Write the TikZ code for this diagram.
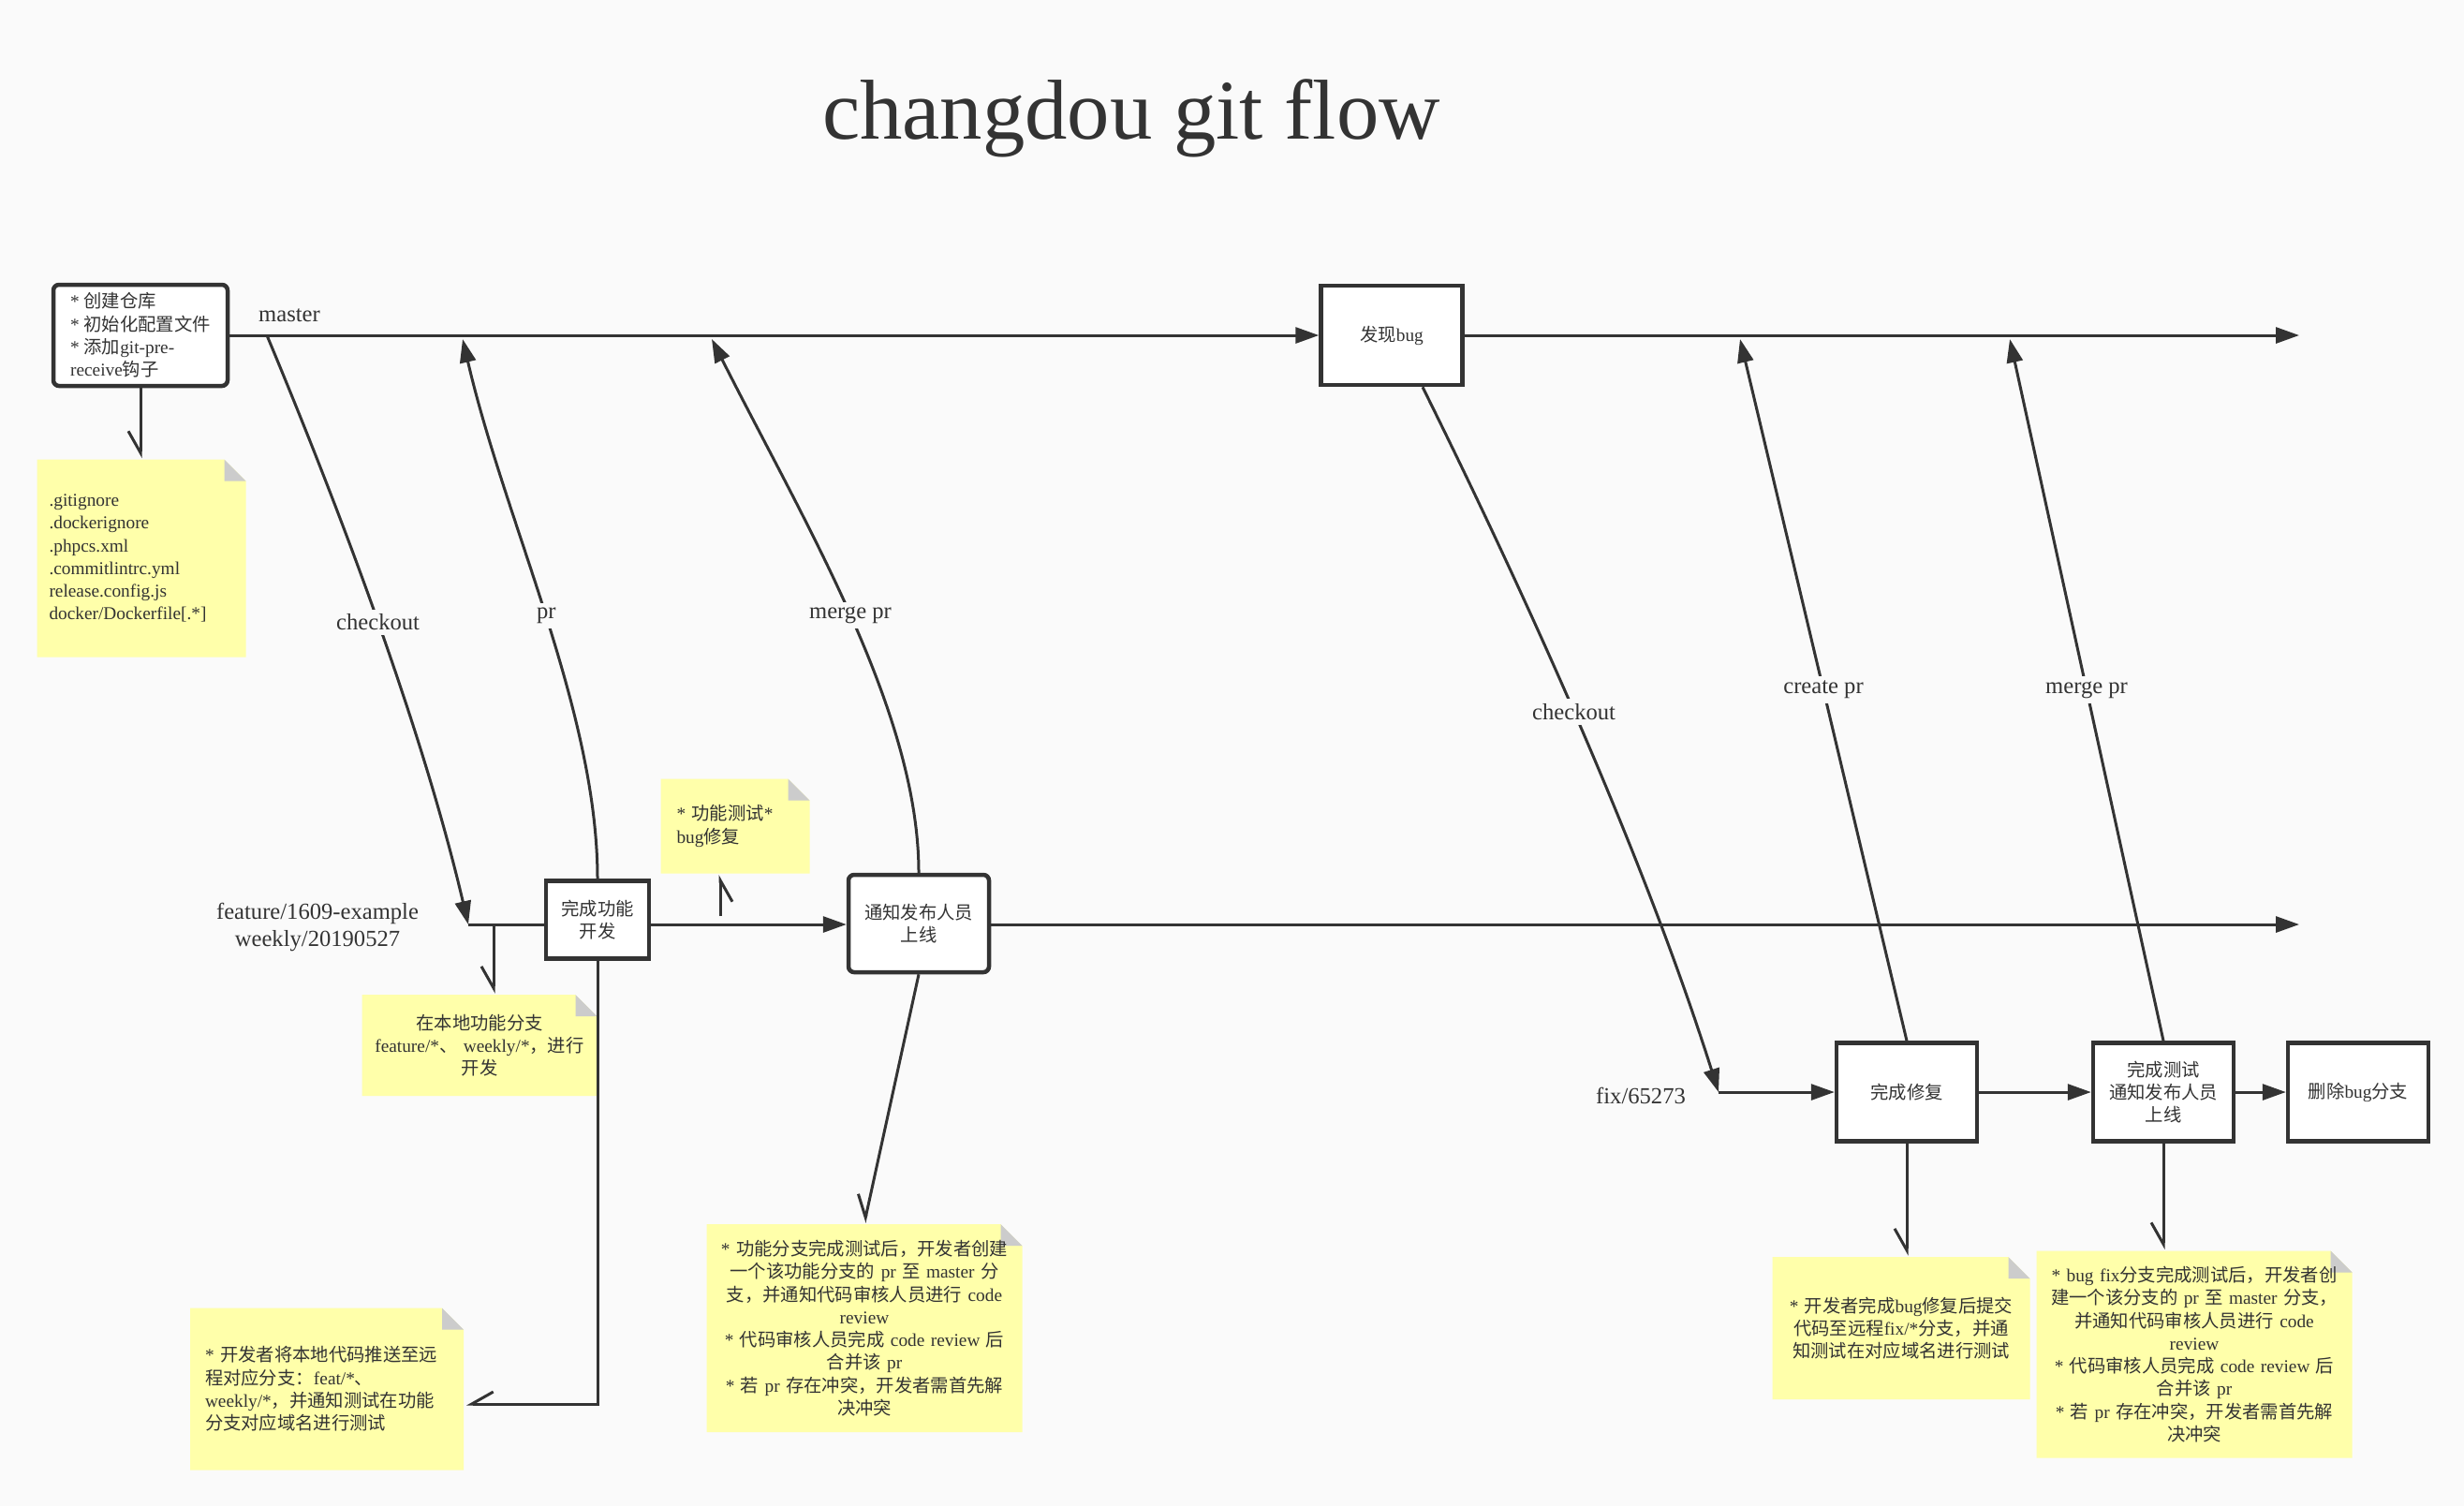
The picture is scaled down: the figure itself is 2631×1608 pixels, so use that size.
\documentclass[tikz,border=0pt]{standalone}
\usepackage{fontspec}
\setmainfont{Liberation Serif}
\newfontfamily\cjkfont{Noto Sans CJK SC}
\usetikzlibrary{arrows.meta}

% Chinese runs are set in the CJK sans, the rest in the serif
\XeTeXinterchartokenstate=1
\newXeTeXintercharclass\zhclass
\newcount\zhcode
\newcommand\zhrange[2]{\zhcode=#1\relax
  \loop\XeTeXcharclass\zhcode=\zhclass
  \ifnum\zhcode<#2\advance\zhcode by 1\repeat}
\zhrange{"3000}{"303F}
\zhrange{"4E00}{"9FFF}
\zhrange{"FF00}{"FFEF}
\XeTeXinterchartoks 0 \zhclass = {\cjkfont}
\XeTeXinterchartoks 4095 \zhclass = {\cjkfont}
\XeTeXinterchartoks \zhclass 0 = {\rmfamily}
\XeTeXinterchartoks \zhclass 4095 = {\rmfamily}

\definecolor{ink}{RGB}{51,51,51}
\definecolor{pagebg}{RGB}{250,250,250}
\definecolor{notebg}{RGB}{255,255,170}
\definecolor{foldgray}{RGB}{204,204,204}

\newcommand\notesize{\fontsize{5.5pt}{6.9pt}\selectfont}
\newcommand\labelsize{\fontsize{7pt}{8.5pt}\selectfont}
\newcommand\foldsize{2.3mm}

\begin{document}
\begin{tikzpicture}[
    x=0.1mm, y=-0.1mm,
    color=ink,
    line width=0.3mm,
    box/.style={draw=ink, fill=white, line width=0.45mm, font=\notesize,
      align=center, inner sep=0pt, minimum width=15mm, minimum height=10.5mm},
    note/.style={font=\notesize, inner sep=0pt, path picture={
      \fill[notebg] (path picture bounding box.south west)
        -- (path picture bounding box.south east)
        -- ([yshift=-\foldsize]path picture bounding box.north east)
        -- ([xshift=-\foldsize]path picture bounding box.north east)
        -- (path picture bounding box.north west) -- cycle;
      \fill[foldgray] ([xshift=-\foldsize]path picture bounding box.north east)
        -- ([xshift=-\foldsize,yshift=-\foldsize]path picture bounding box.north east)
        -- ([yshift=-\foldsize]path picture bounding box.north east) -- cycle;}},
    lbl/.style={font=\labelsize, fill=pagebg, inner sep=1.5pt},
    tip/.style={-{Triangle[length=2.5mm,width=1.7mm]}},
    barb/.style={-{Straight Barb[right,length=2.3mm,width=2.6mm]}}
]

% Page
\fill[pagebg] (0,0) rectangle (2631,1608);
\useasboundingbox (0,0) rectangle (2631,1608);

\node[font=\fontsize{25.8pt}{30pt}\selectfont] (title) at (1208,126) {changdou git flow};

% Branch names
\node[font=\labelsize] (masterlbl) at (309,337) {master};
\node[font=\labelsize, align=center] (featlbl) at (339,990) {feature/1609-example\\weekly/20190527};
\node[font=\labelsize] (fixlbl) at (1752,1170) {fix/65273};

% Steps
\node[box, rounded corners=0.6mm, align=left, minimum width=18.6mm, minimum height=10.8mm] (init) at (150,358)
  {* 创建仓库\\{}* 初始化配置文件\\{}* 添加git-pre-\\receive钩子};
\node[box, minimum width=15.1mm, minimum height=10.6mm] (bug) at (1486,358) {发现bug};
\node[box, minimum width=11mm, minimum height=8.3mm] (featdone) at (638,982) {完成功能\\开发};
\node[box, rounded corners=0.6mm, minimum height=10.4mm] (notify) at (981,986) {通知发布人员\\上线};
\node[box] (fixed) at (2036,1166) {完成修复};
\node[box] (tested) at (2310,1166) {完成测试\\通知发布人员\\上线};
\node[box] (dropfix) at (2518,1166) {删除bug分支};

% Notes
\node[note, text width=19.7mm, inner xsep=1.3mm, align=left, minimum height=21.1mm] (files) at (151,596)
  {.gitignore\\.dockerignore\\.phpcs.xml\\.commitlintrc.yml\\release.config.js\\docker/Dockerfile[.*]};
\node[note, text width=25.1mm, align=center, minimum height=10.8mm] (localdev) at (512,1116)
  {在本地功能分支\\feature/*、 weekly/*，进行\\开发};
\node[note, text width=12.5mm, inner xsep=1.7mm, align=left, minimum height=10.1mm] (selftest) at (785,882)
  {* 功能测试*\\bug修复};
\node[note, text width=26mm, inner xsep=1.6mm, align=left, minimum height=17.3mm] (pushnote) at (349,1483)
  {* 开发者将本地代码推送至远\\程对应分支：feat/*、\\weekly/*，并通知测试在功能\\分支对应域名进行测试};
\node[note, text width=33.7mm, align=center, minimum height=22.2mm] (prnote) at (923,1418)
  {* 功能分支完成测试后，开发者创建\\一个该功能分支的 pr 至 master 分\\支，并通知代码审核人员进行 code\\review\\{}* 代码审核人员完成 code review 后\\合并该 pr\\{}* 若 pr 存在冲突，开发者需首先解\\决冲突};
\node[note, text width=27.5mm, align=center, minimum height=15.2mm] (fixnote) at (2030,1418)
  {* 开发者完成bug修复后提交\\代码至远程fix/*分支，并通\\知测试在对应域名进行测试};
\node[note, text width=33.7mm, align=center, minimum height=22.1mm] (fixprnote) at (2343,1446)
  {* bug fix分支完成测试后，开发者创\\建一个该分支的 pr 至 master 分支，\\并通知代码审核人员进行 code\\review\\{}* 代码审核人员完成 code review 后\\合并该 pr\\{}* 若 pr 存在冲突，开发者需首先解\\决冲突};

% Free ends of the connectors
\coordinate (masterEnd) at (2455,358);
\coordinate (ck1) at (285,358);
\coordinate (featStart) at (500,987);
\coordinate (featEnd) at (2455,987);
\coordinate (prTip) at (494,362);
\coordinate (mergeTip) at (760,362);
\coordinate (localFork) at (527,987);
\coordinate (testFoot) at (769,978);
\coordinate (pushTip) at (498,1499);
\coordinate (fixStart) at (1835,1166);
\coordinate (createTip) at (1858,362);
\coordinate (fixMergeTip) at (2146,362);

% master
\draw[tip] (init.east) -- (bug.west);
\draw[tip] (bug.east) -- (masterEnd);
\draw[barb] (init.south) -- (init.south |- files.north);

% feature branch
\draw[tip] (ck1) .. controls (386,600) and (458,808) .. (featStart) node[lbl, pos=0.45] {checkout};
\draw (featStart) -- (featStart -| featdone.west);
\draw[tip] (featdone.east |- featStart) -- (featStart -| notify.west);
\draw[tip] (notify.east |- featStart) -- (featEnd);
\draw[tip] (featdone.north) .. controls (638,760) and (540,560) .. (prTip) node[lbl, pos=0.5] {pr};
\draw[tip] (notify.north) .. controls (981,760) and (860,560) .. (mergeTip) node[lbl, pos=0.5] {merge pr};
\draw[barb] (localFork) -- (localFork |- localdev.north);
\draw[barb] (testFoot) -- (testFoot |- selftest.south);
\draw[barb] (featdone.south) |- (pushTip);
\draw[barb] (notify.south) -- (prnote.north);

% fix branch
\draw[tip] ([xshift=3.3mm]bug.south) .. controls (1664,706) and (1769,957) .. (fixStart) node[lbl, pos=0.42] {checkout};
\draw[tip] (fixStart) -- (fixed.west);
\draw[tip] (fixed.east) -- (tested.west);
\draw[tip] (tested.east) -- (dropfix.west);
\draw[tip] (fixed.north) -- (createTip) node[lbl, midway] {create pr};
\draw[tip] (tested.north) -- (fixMergeTip) node[lbl, midway] {merge pr};
\draw[barb] (fixed.south) -- (fixed.south |- fixnote.north);
\draw[barb] (tested.south) -- (tested.south |- fixprnote.north);

\end{tikzpicture}
\end{document}
